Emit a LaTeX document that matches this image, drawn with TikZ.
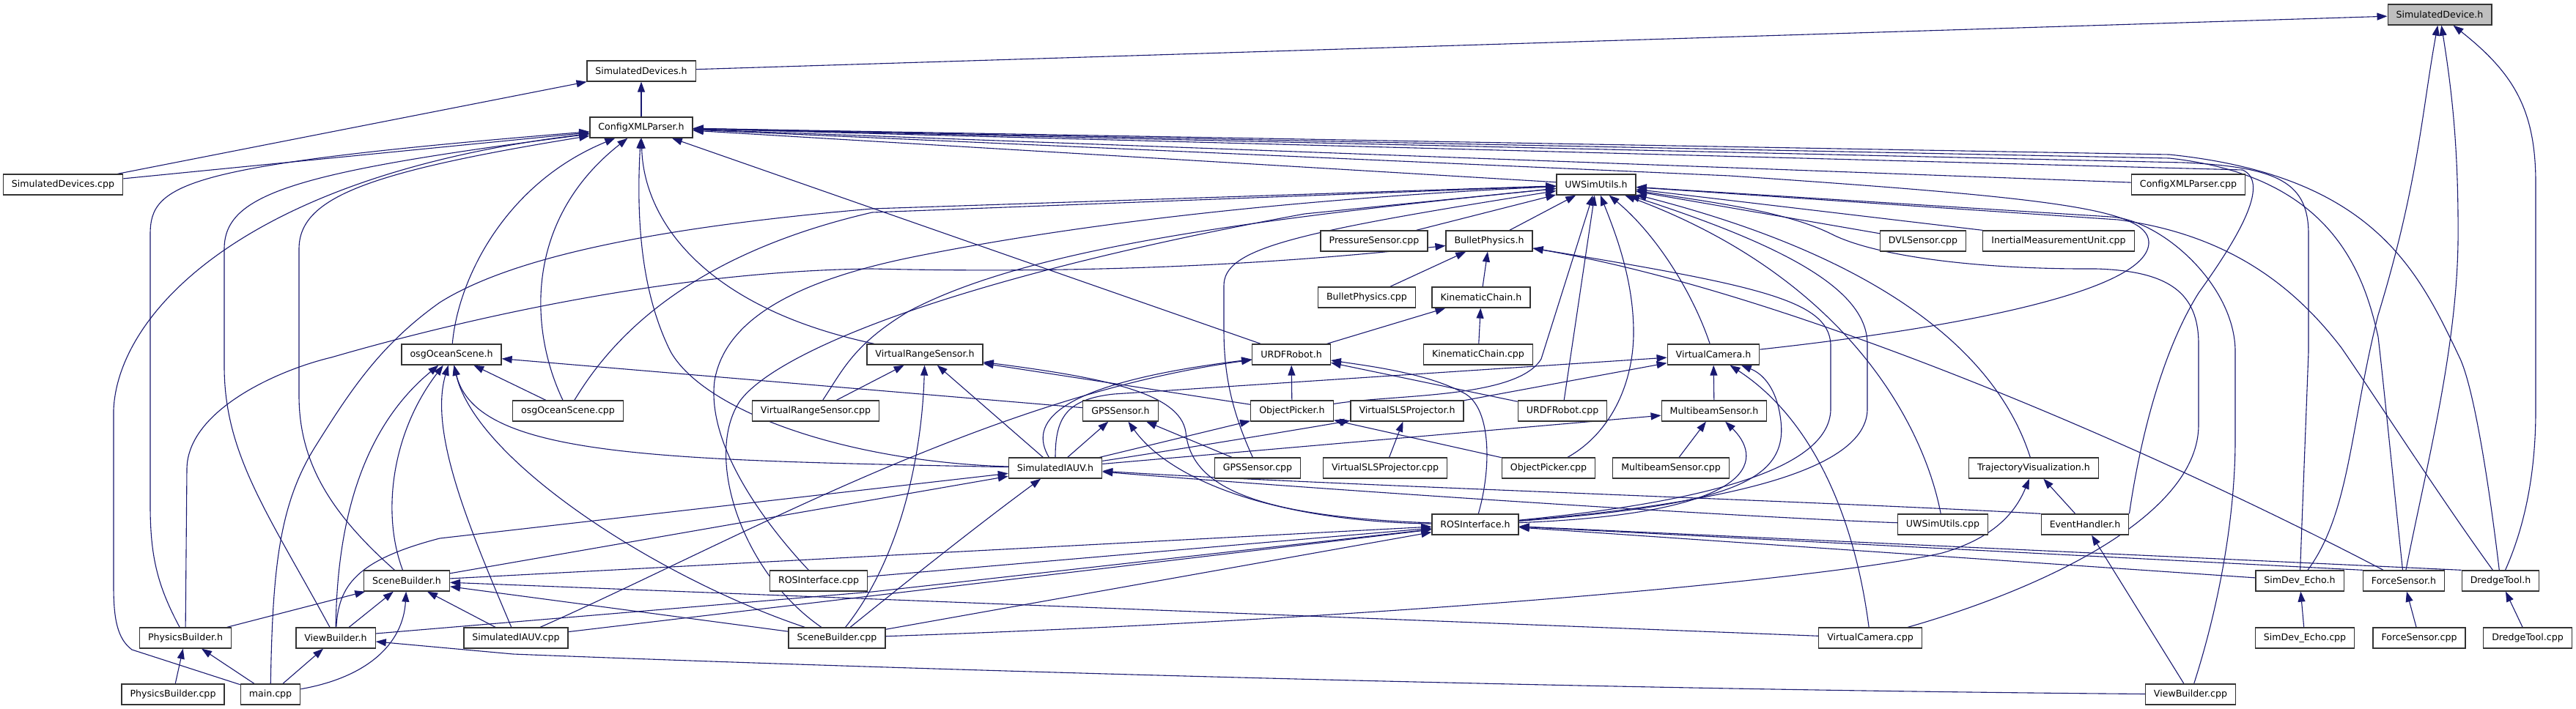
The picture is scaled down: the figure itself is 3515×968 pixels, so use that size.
\documentclass[tikz,border=0pt]{standalone}
\usepackage{fontspec}
\newfontfamily\dv{DejaVu Sans}
\usetikzlibrary{arrows.meta,backgrounds}
\definecolor{edgec}{HTML}{191970}
\definecolor{boxc}{HTML}{333333}
\begin{document}
\begin{tikzpicture}[x=1pt,y=-1pt,
  box/.style={draw=boxc,line width=1.3pt,fill=white,font={\dv\fontsize{12.6}{15}\selectfont},
    inner xsep=11.5pt,inner ysep=0pt,minimum height=28pt},
  edge/.style={draw=edgec,line width=1.1pt,-{Triangle[length=14pt,width=10pt]}}]
\useasboundingbox (0,0) rectangle (3515,968);
% row 1-3
\node[box,fill=gray!50] (sd) at (3329,20) {SimulatedDevice.h};
\node[box] (sds) at (875,97) {SimulatedDevices.h};
\node[box] (cxp) at (875,174) {ConfigXMLParser.h};
% row 4
\node[box] (sdscpp) at (86,252) {SimulatedDevices.cpp};
\node[box] (uwu) at (2178,252) {UWSimUtils.h};
\node[box] (cxpcpp) at (2986,252) {ConfigXMLParser.cpp};
% row 5
\node[box] (pres) at (1875,329) {PressureSensor.cpp};
\node[box] (bp) at (2032,329) {BulletPhysics.h};
\node[box] (dvl) at (2624,329) {DVLSensor.cpp};
\node[box] (imu) at (2809,329) {InertialMeasurementUnit.cpp};
% row 6
\node[box] (bpcpp) at (1865,406) {BulletPhysics.cpp};
\node[box] (kc) at (2021,406) {KinematicChain.h};
% row 7
\node[box] (osg) at (616,484) {osgOceanScene.h};
\node[box] (vrs) at (1262,484) {VirtualRangeSensor.h};
\node[box] (urdf) at (1762,484) {URDFRobot.h};
\node[box] (kccpp) at (2017,484) {KinematicChain.cpp};
\node[box] (vc) at (2338,484) {VirtualCamera.h};
% row 8
\node[box] (osgcpp) at (775,561) {osgOceanScene.cpp};
\node[box] (vrscpp) at (1113,561) {VirtualRangeSensor.cpp};
\node[box] (gps) at (1529,561) {GPSSensor.h};
\node[box] (op) at (1763,561) {ObjectPicker.h};
\node[box] (sls) at (1920,561) {VirtualSLSProjector.h};
\node[box] (urdfcpp) at (2132,561) {URDFRobot.cpp};
\node[box] (mb) at (2339,561) {MultibeamSensor.h};
% row 9
\node[box] (si) at (1440,639) {SimulatedIAUV.h};
\node[box] (gpscpp) at (1716,639) {GPSSensor.cpp};
\node[box] (slscpp) at (1890,639) {VirtualSLSProjector.cpp};
\node[box] (opcpp) at (2113,639) {ObjectPicker.cpp};
\node[box] (mbcpp) at (2280,639) {MultibeamSensor.cpp};
\node[box] (tv) at (2775,639) {TrajectoryVisualization.h};
% row 10
\node[box] (ros) at (2013,716) {ROSInterface.h};
\node[box] (uwucpp) at (2651,716) {UWSimUtils.cpp};
\node[box] (eh) at (2845,716) {EventHandler.h};
% row 11
\node[box] (sb) at (555,793) {SceneBuilder.h};
\node[box] (roscpp) at (1117,793) {ROSInterface.cpp};
\node[box] (echo) at (3138,793) {SimDev\_Echo.h};
\node[box] (fs) at (3280,793) {ForceSensor.h};
\node[box] (dt) at (3412,793) {DredgeTool.h};
% row 12
\node[box] (pb) at (253,871) {PhysicsBuilder.h};
\node[box] (vb) at (458,871) {ViewBuilder.h};
\node[box] (sicpp) at (704,871) {SimulatedIAUV.cpp};
\node[box] (sbcpp) at (1142,871) {SceneBuilder.cpp};
\node[box] (vccpp) at (2552,871) {VirtualCamera.cpp};
\node[box] (echocpp) at (3145,871) {SimDev\_Echo.cpp};
\node[box] (fscpp) at (3301,871) {ForceSensor.cpp};
\node[box] (dtcpp) at (3449,871) {DredgeTool.cpp};
% row 13
\node[box] (pbcpp) at (236,948) {PhysicsBuilder.cpp};
\node[box] (main) at (369,948) {main.cpp};
\node[box] (vbcpp) at (2989,948) {ViewBuilder.cpp};

\begin{scope}[on background layer]
\fill[white] (0,0) rectangle (3515,968);
% SimulatedDevice.h
\draw[edge] (sds) -- (sd);
\draw[edge] (echo) .. controls (3207,700) and (3207,580) .. (3245,430) .. controls (3300,250) and (3305,150) .. (sd);
\draw[edge] (fs) .. controls (3310,640) and (3352,480) .. (3354,330) .. controls (3355,200) and (3345,120) .. (sd);
\draw[edge] (dt) .. controls (3440,730) and (3460,660) .. (3460,560) -- (3460,250) .. controls (3460,150) and (3430,100) .. (sd);
% SimulatedDevices.h
\draw[edge] (cxp) -- (sds);
\draw[edge] (sdscpp) -- (sds);
% ConfigXMLParser.h
\draw[edge] (sdscpp) -- (cxp);
\draw[edge] (uwu) -- (cxp);
\draw[edge] (cxpcpp) -- (cxp);
\draw[edge] (osg) .. controls (625,380) and (690,250) .. (cxp);
\draw[edge] (osgcpp) .. controls (722,450) and (715,300) .. (cxp);
\draw[edge] (vrs) .. controls (960,420) and (878,300) .. (cxp);
\draw[edge] (urdf) -- (cxp);
\draw[edge] (si) .. controls (1150,630) and (960,560) .. (915,480) .. controls (875,400) and (868,300) .. (cxp);
\draw[edge] (pb) .. controls (215,800) and (205,760) .. (205,690) -- (205,320) .. controls (205,250) and (250,225) .. (cxp);
\draw[edge] (main) -- (180,887) .. controls (160,872) and (155,845) .. (155,800) -- (155,560) .. controls (160,430) and (330,240) .. (cxp);
\draw[edge] (vb) .. controls (365,700) and (306,620) .. (306,500) -- (306,340) .. controls (306,265) and (400,235) .. (cxp);
\draw[edge] (sb) .. controls (450,700) and (408,630) .. (408,540) -- (408,340) .. controls (408,270) and (500,235) .. (cxp);
\draw[edge] (vc) .. controls (2650,450) and (2935,400) .. (2932,330) .. controls (2929,285) and (2800,270) .. (2360,240) -- (cxp);
\draw[edge] (eh.north east) .. controls (2920,600) and (2950,480) .. (3000,400) .. controls (3050,330) and (3100,250) .. (3060,232) -- (cxp);
\draw[edge] (echo) -- (3150,480) -- (3150,320) .. controls (3150,250) and (3110,228) .. (2980,222) -- (cxp);
\draw[edge] (fs) .. controls (3265,650) and (3252,520) .. (3245,460) .. controls (3225,370) and (3180,240) .. (2960,216) -- (cxp);
\draw[edge] (dt) .. controls (3395,650) and (3375,530) .. (3357,490) .. controls (3300,370) and (3240,240) .. (2960,211) -- (cxp);
% UWSimUtils.h
\draw[edge] (bp) -- (uwu);
\draw[edge] (pres) -- (uwu);
\draw[edge] (main) .. controls (372,780) and (380,690) .. (430,610) .. controls (480,530) and (520,470) .. (600,413) .. controls (700,350) and (900,310) .. (1190,285) -- (uwu);
\draw[edge] (vc) .. controls (2310,400) and (2260,320) .. (uwu);
\draw[edge] (dvl) -- (uwu);
\draw[edge] (imu.north west) -- (uwu);
\draw[edge] (vccpp) .. controls (2800,800) and (3000,700) .. (3000,580) -- (3000,470) .. controls (3000,400) and (2960,370) .. (2860,367) .. controls (2700,368) and (2560,350) .. (2500,320) .. controls (2440,290) and (2350,278) .. (uwu);
\draw[edge] (vbcpp) .. controls (3030,820) and (3050,700) .. (3050,600) -- (3050,480) .. controls (3050,390) and (2950,300) .. (2880,296) -- (uwu);
\draw[edge] (dt) .. controls (3330,680) and (3240,540) .. (3195,475) .. controls (3130,390) and (3040,320) .. (2890,300) -- (uwu);
\draw[edge] (ros) .. controls (2320,690) and (2545,650) .. (2548,560) -- (2548,470) .. controls (2548,400) and (2450,340) .. (uwu);
\draw[edge] (gpscpp) .. controls (1680,560) and (1670,510) .. (1670,450) -- (1670,390) .. controls (1670,340) and (1760,318) .. (uwu);
\draw[edge] (osgcpp) .. controls (830,470) and (930,350) .. (1190,290) -- (uwu);
\draw[edge] (vrscpp) .. controls (1150,505) and (1165,470) .. (1240,425) .. controls (1400,340) and (1700,300) .. (uwu);
\draw[edge] (sbcpp) .. controls (1010,780) and (960,620) .. (1010,547) .. controls (1060,480) and (1300,380) .. (1780,292) -- (uwu);
\draw[edge] (roscpp) .. controls (1030,700) and (965,600) .. (975,520) .. controls (990,430) and (1100,380) .. (1250,350) .. controls (1500,300) and (1800,270) .. (uwu);
\draw[edge] (tv) .. controls (2740,530) and (2640,370) .. (uwu);
\draw[edge] (uwucpp) .. controls (2625,580) and (2520,380) .. (uwu);
\draw[edge] (op) .. controls (1900,538) and (2070,545) .. (2103,490) -- (uwu);
\draw[edge] (urdfcpp) -- (uwu);
\draw[edge] (opcpp) .. controls (2200,590) and (2230,520) .. (2229,450) .. controls (2228,380) and (2205,320) .. (uwu);
% BulletPhysics.h
\draw[edge] (bpcpp) -- (bp);
\draw[edge] (kc) -- (bp);
\draw[edge] (pb) -- (255,640) .. controls (256,560) and (380,505) .. (452,488) .. controls (600,445) and (900,370) .. (1190,367) .. controls (1450,373) and (1700,365) .. (bp);
\draw[edge] (fs) .. controls (2950,620) and (2450,400) .. (bp);
\draw[edge] (ros) .. controls (2330,685) and (2495,640) .. (2498,560) -- (2498,470) .. controls (2495,410) and (2400,390) .. (bp);
% KinematicChain.h
\draw[edge] (kccpp) -- (kc);
\draw[edge] (urdf) -- (kc);
% osgOceanScene.h
\draw[edge] (osgcpp) -- (osg);
\draw[edge] (gps) -- (osg);
\draw[edge] (sbcpp) .. controls (900,790) and (650,630) .. (osg);
\draw[edge] (si) .. controls (900,628) and (650,625) .. (osg);
\draw[edge] (sicpp) .. controls (640,720) and (585,590) .. (osg);
\draw[edge] (vb) .. controls (460,700) and (500,580) .. (osg);
\draw[edge] (sb) .. controls (520,700) and (535,590) .. (osg);
% VirtualRangeSensor.h
\draw[edge] (vrscpp) -- (vrs);
\draw[edge] (sbcpp) .. controls (1230,760) and (1258,620) .. (vrs);
\draw[edge] (si) -- (vrs);
\draw[edge] (op) -- (vrs);
\draw[edge] (ros) .. controls (1700,705) and (1625,660) .. (1618,590) .. controls (1610,535) and (1500,515) .. (vrs);
% URDFRobot.h
\draw[edge] (urdfcpp) -- (urdf);
\draw[edge] (ros) .. controls (2035,640) and (2035,560) .. (2000,538) .. controls (1950,510) and (1870,500) .. (urdf);
\draw[edge] (si) .. controls (1405,580) and (1430,525) .. (urdf);
\draw[edge] (sicpp) .. controls (1000,740) and (1350,540) .. (urdf);
\draw[edge] (op) -- (urdf);
% VirtualCamera.h
\draw[edge] (sls) -- (vc);
\draw[edge] (mb) -- (vc);
\draw[edge] (si) .. controls (1440,570) and (1455,545) .. (1520,538) -- (vc);
\draw[edge] (ros) .. controls (2350,690) and (2440,660) .. (2430,575) .. controls (2425,530) and (2405,510) .. (vc);
\draw[edge] (vccpp) .. controls (2530,700) and (2470,570) .. (vc);
% GPSSensor.h
\draw[edge] (si) -- (gps);
\draw[edge] (gpscpp) -- (gps);
\draw[edge] (ros) .. controls (1750,712) and (1600,660) .. (gps);
% ObjectPicker.h / VirtualSLSProjector.h
\draw[edge] (si) -- (op);
\draw[edge] (opcpp) -- (op);
\draw[edge] (slscpp) -- (sls);
\draw[edge] (si) .. controls (1600,615) and (1780,585) .. (sls);
% MultibeamSensor.h
\draw[edge] (mbcpp) -- (mb);
\draw[edge] (si) -- (mb);
\draw[edge] (ros) .. controls (2420,700) and (2400,620) .. (mb);
% SimulatedIAUV.h
\draw[edge] (eh.north west) .. controls (2500,685) and (1800,662) .. (si);
\draw[edge] (uwucpp) .. controls (2350,705) and (1800,668) .. (si);
\draw[edge] (vb) .. controls (462,800) and (485,765) .. (600,735) -- (si);
\draw[edge] (sb) -- (si);
\draw[edge] (sbcpp) .. controls (1230,800) and (1330,720) .. (si);
% ROSInterface.h
\draw[edge] (sb) -- (ros);
\draw[edge] (sbcpp) -- (ros);
\draw[edge] (roscpp) -- (ros);
\draw[edge] (sicpp) -- (ros);
\draw[edge] ([yshift=6pt]vb.east) -- (1190,808) -- (ros);
\draw[edge] (echo) -- (ros);
\draw[edge] (fs.north west) -- (ros);
\draw[edge] (dt.north west) -- (ros);
% TrajectoryVisualization.h / EventHandler.h
\draw[edge] (sbcpp) .. controls (1900,845) and (2500,790) .. (2650,755) .. controls (2720,735) and (2750,700) .. (tv);
\draw[edge] (eh) -- (tv);
\draw[edge] (vbcpp) -- (eh);
% SceneBuilder.h
\draw[edge] (pb) -- (sb);
\draw[edge] (vb) -- (sb);
\draw[edge] (main) .. controls (500,925) and (550,880) .. (sb);
\draw[edge] (sicpp) -- (sb);
\draw[edge] (sbcpp) -- (sb);
\draw[edge] (vccpp) -- (sb);
% PhysicsBuilder.h / ViewBuilder.h
\draw[edge] (pbcpp) -- (pb);
\draw[edge] (main) -- (pb);
\draw[edge] (main) -- (vb);
\draw[edge] (vbcpp) .. controls (2000,940) and (1000,905) .. (700,893) -- (vb);
% leaves
\draw[edge] (echocpp) -- (echo);
\draw[edge] (fscpp) -- (fs);
\draw[edge] (dtcpp) -- (dt);
\end{scope}
\end{tikzpicture}
\end{document}
